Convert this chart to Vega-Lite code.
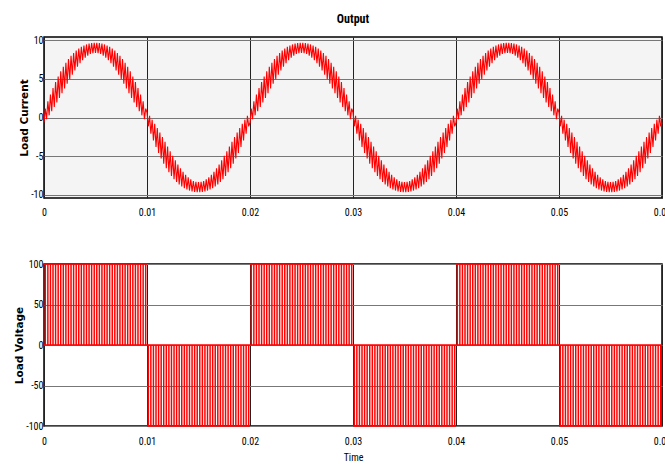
{
"$schema": "https://vega.github.io/schema/vega-lite/v6.json",
"background": "white",
"padding": {"left": 13, "top": 12, "right": -3, "bottom": 0},
"spacing": 40,
"config": {
 "font": "Liberation Sans",
 "view": {"stroke": "#000", "strokeWidth": 1.5},
 "axis": {"labelFont": "Liberation Sans Narrow, Arial Narrow, Roboto Condensed, Open Sans Condensed, Noto Sans Condensed, DejaVu Sans Condensed, Liberation Sans", "labelFontSize": 10, "labelColor": "#000", "titleFont": "DejaVu Sans", "titleFontSize": 10.5, "titleFontWeight": "bold", "titleColor": "#000", "domain": false, "ticks": false, "grid": true, "labelFlush": false}
},
"datasets": {
"cur": [
{"t":0.000,"i":-0.65},{"t":0.000125,"i":1.14},{"t":0.00025,"i":-0.21},{"t":0.000375,"i":2.09},{"t":0.0005,"i":0.28},{"t":0.000625,"i":2.98},{"t":0.00075,"i":0.8},{"t":0.000875,"i":3.81},
{"t":0.001,"i":1.35},{"t":0.001125,"i":4.59},{"t":0.00125,"i":1.94},{"t":0.001375,"i":5.3},{"t":0.0015,"i":2.53},{"t":0.001625,"i":5.96},{"t":0.00175,"i":3.14},{"t":0.001875,"i":6.55},
{"t":0.002,"i":3.76},{"t":0.002125,"i":7.08},{"t":0.00225,"i":4.37},{"t":0.002375,"i":7.55},{"t":0.0025,"i":4.96},{"t":0.002625,"i":7.97},{"t":0.00275,"i":5.53},{"t":0.002875,"i":8.33},
{"t":0.003,"i":6.07},{"t":0.003125,"i":8.64},{"t":0.00325,"i":6.57},{"t":0.003375,"i":8.91},{"t":0.0035,"i":7.02},{"t":0.003625,"i":9.13},{"t":0.00375,"i":7.41},{"t":0.003875,"i":9.31},
{"t":0.004,"i":7.74},{"t":0.004125,"i":9.44},{"t":0.00425,"i":8},{"t":0.004375,"i":9.55},{"t":0.0045,"i":8.2},{"t":0.004625,"i":9.61},{"t":0.00475,"i":8.31},{"t":0.004875,"i":9.65},
{"t":0.005,"i":8.35},{"t":0.005125,"i":9.65},{"t":0.00525,"i":8.31},{"t":0.005375,"i":9.61},{"t":0.0055,"i":8.2},{"t":0.005625,"i":9.55},{"t":0.00575,"i":8},{"t":0.005875,"i":9.44},
{"t":0.006,"i":7.74},{"t":0.006125,"i":9.31},{"t":0.00625,"i":7.41},{"t":0.006375,"i":9.13},{"t":0.0065,"i":7.02},{"t":0.006625,"i":8.91},{"t":0.00675,"i":6.57},{"t":0.006875,"i":8.64},
{"t":0.007,"i":6.07},{"t":0.007125,"i":8.33},{"t":0.00725,"i":5.53},{"t":0.007375,"i":7.97},{"t":0.0075,"i":4.96},{"t":0.007625,"i":7.55},{"t":0.00775,"i":4.37},{"t":0.007875,"i":7.08},
{"t":0.008,"i":3.76},{"t":0.008125,"i":6.55},{"t":0.00825,"i":3.14},{"t":0.008375,"i":5.96},{"t":0.0085,"i":2.53},{"t":0.008625,"i":5.3},{"t":0.00875,"i":1.94},{"t":0.008875,"i":4.59},
{"t":0.009,"i":1.35},{"t":0.009125,"i":3.81},{"t":0.00925,"i":0.8},{"t":0.009375,"i":2.98},{"t":0.0095,"i":0.28},{"t":0.009625,"i":2.09},{"t":0.00975,"i":-0.21},{"t":0.009875,"i":1.14},
{"t":0.010,"i":0.65},{"t":0.010125,"i":-1.14},{"t":0.01025,"i":0.21},{"t":0.010375,"i":-2.09},{"t":0.0105,"i":-0.28},{"t":0.010625,"i":-2.98},{"t":0.01075,"i":-0.8},{"t":0.010875,"i":-3.81},
{"t":0.011,"i":-1.35},{"t":0.011125,"i":-4.59},{"t":0.01125,"i":-1.94},{"t":0.011375,"i":-5.3},{"t":0.0115,"i":-2.53},{"t":0.011625,"i":-5.96},{"t":0.01175,"i":-3.14},{"t":0.011875,"i":-6.55},
{"t":0.012,"i":-3.76},{"t":0.012125,"i":-7.08},{"t":0.01225,"i":-4.37},{"t":0.012375,"i":-7.55},{"t":0.0125,"i":-4.96},{"t":0.012625,"i":-7.97},{"t":0.01275,"i":-5.53},{"t":0.012875,"i":-8.33},
{"t":0.013,"i":-6.07},{"t":0.013125,"i":-8.64},{"t":0.01325,"i":-6.57},{"t":0.013375,"i":-8.91},{"t":0.0135,"i":-7.02},{"t":0.013625,"i":-9.13},{"t":0.01375,"i":-7.41},{"t":0.013875,"i":-9.31},
{"t":0.014,"i":-7.74},{"t":0.014125,"i":-9.44},{"t":0.01425,"i":-8},{"t":0.014375,"i":-9.55},{"t":0.0145,"i":-8.2},{"t":0.014625,"i":-9.61},{"t":0.01475,"i":-8.31},{"t":0.014875,"i":-9.65},
{"t":0.015,"i":-8.35},{"t":0.015125,"i":-9.65},{"t":0.01525,"i":-8.31},{"t":0.015375,"i":-9.61},{"t":0.0155,"i":-8.2},{"t":0.015625,"i":-9.55},{"t":0.01575,"i":-8},{"t":0.015875,"i":-9.44},
{"t":0.016,"i":-7.74},{"t":0.016125,"i":-9.31},{"t":0.01625,"i":-7.41},{"t":0.016375,"i":-9.13},{"t":0.0165,"i":-7.02},{"t":0.016625,"i":-8.91},{"t":0.01675,"i":-6.57},{"t":0.016875,"i":-8.64},
{"t":0.017,"i":-6.07},{"t":0.017125,"i":-8.33},{"t":0.01725,"i":-5.53},{"t":0.017375,"i":-7.97},{"t":0.0175,"i":-4.96},{"t":0.017625,"i":-7.55},{"t":0.01775,"i":-4.37},{"t":0.017875,"i":-7.08},
{"t":0.018,"i":-3.76},{"t":0.018125,"i":-6.55},{"t":0.01825,"i":-3.14},{"t":0.018375,"i":-5.96},{"t":0.0185,"i":-2.53},{"t":0.018625,"i":-5.3},{"t":0.01875,"i":-1.94},{"t":0.018875,"i":-4.59},
{"t":0.019,"i":-1.35},{"t":0.019125,"i":-3.81},{"t":0.01925,"i":-0.8},{"t":0.019375,"i":-2.98},{"t":0.0195,"i":-0.28},{"t":0.019625,"i":-2.09},{"t":0.01975,"i":0.21},{"t":0.019875,"i":-1.14},
{"t":0.020,"i":-0.65},{"t":0.020125,"i":1.14},{"t":0.02025,"i":-0.21},{"t":0.020375,"i":2.09},{"t":0.0205,"i":0.28},{"t":0.020625,"i":2.98},{"t":0.02075,"i":0.8},{"t":0.020875,"i":3.81},
{"t":0.021,"i":1.35},{"t":0.021125,"i":4.59},{"t":0.02125,"i":1.94},{"t":0.021375,"i":5.3},{"t":0.0215,"i":2.53},{"t":0.021625,"i":5.96},{"t":0.02175,"i":3.14},{"t":0.021875,"i":6.55},
{"t":0.022,"i":3.76},{"t":0.022125,"i":7.08},{"t":0.02225,"i":4.37},{"t":0.022375,"i":7.55},{"t":0.0225,"i":4.96},{"t":0.022625,"i":7.97},{"t":0.02275,"i":5.53},{"t":0.022875,"i":8.33},
{"t":0.023,"i":6.07},{"t":0.023125,"i":8.64},{"t":0.02325,"i":6.57},{"t":0.023375,"i":8.91},{"t":0.0235,"i":7.02},{"t":0.023625,"i":9.13},{"t":0.02375,"i":7.41},{"t":0.023875,"i":9.31},
{"t":0.024,"i":7.74},{"t":0.024125,"i":9.44},{"t":0.02425,"i":8},{"t":0.024375,"i":9.55},{"t":0.0245,"i":8.2},{"t":0.024625,"i":9.61},{"t":0.02475,"i":8.31},{"t":0.024875,"i":9.65},
{"t":0.025,"i":8.35},{"t":0.025125,"i":9.65},{"t":0.02525,"i":8.31},{"t":0.025375,"i":9.61},{"t":0.0255,"i":8.2},{"t":0.025625,"i":9.55},{"t":0.02575,"i":8},{"t":0.025875,"i":9.44},
{"t":0.026,"i":7.74},{"t":0.026125,"i":9.31},{"t":0.02625,"i":7.41},{"t":0.026375,"i":9.13},{"t":0.0265,"i":7.02},{"t":0.026625,"i":8.91},{"t":0.02675,"i":6.57},{"t":0.026875,"i":8.64},
{"t":0.027,"i":6.07},{"t":0.027125,"i":8.33},{"t":0.02725,"i":5.53},{"t":0.027375,"i":7.97},{"t":0.0275,"i":4.96},{"t":0.027625,"i":7.55},{"t":0.02775,"i":4.37},{"t":0.027875,"i":7.08},
{"t":0.028,"i":3.76},{"t":0.028125,"i":6.55},{"t":0.02825,"i":3.14},{"t":0.028375,"i":5.96},{"t":0.0285,"i":2.53},{"t":0.028625,"i":5.3},{"t":0.02875,"i":1.94},{"t":0.028875,"i":4.59},
{"t":0.029,"i":1.35},{"t":0.029125,"i":3.81},{"t":0.02925,"i":0.8},{"t":0.029375,"i":2.98},{"t":0.0295,"i":0.28},{"t":0.029625,"i":2.09},{"t":0.02975,"i":-0.21},{"t":0.029875,"i":1.14},
{"t":0.030,"i":0.65},{"t":0.030125,"i":-1.14},{"t":0.03025,"i":0.21},{"t":0.030375,"i":-2.09},{"t":0.0305,"i":-0.28},{"t":0.030625,"i":-2.98},{"t":0.03075,"i":-0.8},{"t":0.030875,"i":-3.81},
{"t":0.031,"i":-1.35},{"t":0.031125,"i":-4.59},{"t":0.03125,"i":-1.94},{"t":0.031375,"i":-5.3},{"t":0.0315,"i":-2.53},{"t":0.031625,"i":-5.96},{"t":0.03175,"i":-3.14},{"t":0.031875,"i":-6.55},
{"t":0.032,"i":-3.76},{"t":0.032125,"i":-7.08},{"t":0.03225,"i":-4.37},{"t":0.032375,"i":-7.55},{"t":0.0325,"i":-4.96},{"t":0.032625,"i":-7.97},{"t":0.03275,"i":-5.53},{"t":0.032875,"i":-8.33},
{"t":0.033,"i":-6.07},{"t":0.033125,"i":-8.64},{"t":0.03325,"i":-6.57},{"t":0.033375,"i":-8.91},{"t":0.0335,"i":-7.02},{"t":0.033625,"i":-9.13},{"t":0.03375,"i":-7.41},{"t":0.033875,"i":-9.31},
{"t":0.034,"i":-7.74},{"t":0.034125,"i":-9.44},{"t":0.03425,"i":-8},{"t":0.034375,"i":-9.55},{"t":0.0345,"i":-8.2},{"t":0.034625,"i":-9.61},{"t":0.03475,"i":-8.31},{"t":0.034875,"i":-9.65},
{"t":0.035,"i":-8.35},{"t":0.035125,"i":-9.65},{"t":0.03525,"i":-8.31},{"t":0.035375,"i":-9.61},{"t":0.0355,"i":-8.2},{"t":0.035625,"i":-9.55},{"t":0.03575,"i":-8},{"t":0.035875,"i":-9.44},
{"t":0.036,"i":-7.74},{"t":0.036125,"i":-9.31},{"t":0.03625,"i":-7.41},{"t":0.036375,"i":-9.13},{"t":0.0365,"i":-7.02},{"t":0.036625,"i":-8.91},{"t":0.03675,"i":-6.57},{"t":0.036875,"i":-8.64},
{"t":0.037,"i":-6.07},{"t":0.037125,"i":-8.33},{"t":0.03725,"i":-5.53},{"t":0.037375,"i":-7.97},{"t":0.0375,"i":-4.96},{"t":0.037625,"i":-7.55},{"t":0.03775,"i":-4.37},{"t":0.037875,"i":-7.08},
{"t":0.038,"i":-3.76},{"t":0.038125,"i":-6.55},{"t":0.03825,"i":-3.14},{"t":0.038375,"i":-5.96},{"t":0.0385,"i":-2.53},{"t":0.038625,"i":-5.3},{"t":0.03875,"i":-1.94},{"t":0.038875,"i":-4.59},
{"t":0.039,"i":-1.35},{"t":0.039125,"i":-3.81},{"t":0.03925,"i":-0.8},{"t":0.039375,"i":-2.98},{"t":0.0395,"i":-0.28},{"t":0.039625,"i":-2.09},{"t":0.03975,"i":0.21},{"t":0.039875,"i":-1.14},
{"t":0.040,"i":-0.65},{"t":0.040125,"i":1.14},{"t":0.04025,"i":-0.21},{"t":0.040375,"i":2.09},{"t":0.0405,"i":0.28},{"t":0.040625,"i":2.98},{"t":0.04075,"i":0.8},{"t":0.040875,"i":3.81},
{"t":0.041,"i":1.35},{"t":0.041125,"i":4.59},{"t":0.04125,"i":1.94},{"t":0.041375,"i":5.3},{"t":0.0415,"i":2.53},{"t":0.041625,"i":5.96},{"t":0.04175,"i":3.14},{"t":0.041875,"i":6.55},
{"t":0.042,"i":3.76},{"t":0.042125,"i":7.08},{"t":0.04225,"i":4.37},{"t":0.042375,"i":7.55},{"t":0.0425,"i":4.96},{"t":0.042625,"i":7.97},{"t":0.04275,"i":5.53},{"t":0.042875,"i":8.33},
{"t":0.043,"i":6.07},{"t":0.043125,"i":8.64},{"t":0.04325,"i":6.57},{"t":0.043375,"i":8.91},{"t":0.0435,"i":7.02},{"t":0.043625,"i":9.13},{"t":0.04375,"i":7.41},{"t":0.043875,"i":9.31},
{"t":0.044,"i":7.74},{"t":0.044125,"i":9.44},{"t":0.04425,"i":8},{"t":0.044375,"i":9.55},{"t":0.0445,"i":8.2},{"t":0.044625,"i":9.61},{"t":0.04475,"i":8.31},{"t":0.044875,"i":9.65},
{"t":0.045,"i":8.35},{"t":0.045125,"i":9.65},{"t":0.04525,"i":8.31},{"t":0.045375,"i":9.61},{"t":0.0455,"i":8.2},{"t":0.045625,"i":9.55},{"t":0.04575,"i":8},{"t":0.045875,"i":9.44},
{"t":0.046,"i":7.74},{"t":0.046125,"i":9.31},{"t":0.04625,"i":7.41},{"t":0.046375,"i":9.13},{"t":0.0465,"i":7.02},{"t":0.046625,"i":8.91},{"t":0.04675,"i":6.57},{"t":0.046875,"i":8.64},
{"t":0.047,"i":6.07},{"t":0.047125,"i":8.33},{"t":0.04725,"i":5.53},{"t":0.047375,"i":7.97},{"t":0.0475,"i":4.96},{"t":0.047625,"i":7.55},{"t":0.04775,"i":4.37},{"t":0.047875,"i":7.08},
{"t":0.048,"i":3.76},{"t":0.048125,"i":6.55},{"t":0.04825,"i":3.14},{"t":0.048375,"i":5.96},{"t":0.0485,"i":2.53},{"t":0.048625,"i":5.3},{"t":0.04875,"i":1.94},{"t":0.048875,"i":4.59},
{"t":0.049,"i":1.35},{"t":0.049125,"i":3.81},{"t":0.04925,"i":0.8},{"t":0.049375,"i":2.98},{"t":0.0495,"i":0.28},{"t":0.049625,"i":2.09},{"t":0.04975,"i":-0.21},{"t":0.049875,"i":1.14},
{"t":0.050,"i":0.65},{"t":0.050125,"i":-1.14},{"t":0.05025,"i":0.21},{"t":0.050375,"i":-2.09},{"t":0.0505,"i":-0.28},{"t":0.050625,"i":-2.98},{"t":0.05075,"i":-0.8},{"t":0.050875,"i":-3.81},
{"t":0.051,"i":-1.35},{"t":0.051125,"i":-4.59},{"t":0.05125,"i":-1.94},{"t":0.051375,"i":-5.3},{"t":0.0515,"i":-2.53},{"t":0.051625,"i":-5.96},{"t":0.05175,"i":-3.14},{"t":0.051875,"i":-6.55},
{"t":0.052,"i":-3.76},{"t":0.052125,"i":-7.08},{"t":0.05225,"i":-4.37},{"t":0.052375,"i":-7.55},{"t":0.0525,"i":-4.96},{"t":0.052625,"i":-7.97},{"t":0.05275,"i":-5.53},{"t":0.052875,"i":-8.33},
{"t":0.053,"i":-6.07},{"t":0.053125,"i":-8.64},{"t":0.05325,"i":-6.57},{"t":0.053375,"i":-8.91},{"t":0.0535,"i":-7.02},{"t":0.053625,"i":-9.13},{"t":0.05375,"i":-7.41},{"t":0.053875,"i":-9.31},
{"t":0.054,"i":-7.74},{"t":0.054125,"i":-9.44},{"t":0.05425,"i":-8},{"t":0.054375,"i":-9.55},{"t":0.0545,"i":-8.2},{"t":0.054625,"i":-9.61},{"t":0.05475,"i":-8.31},{"t":0.054875,"i":-9.65},
{"t":0.055,"i":-8.35},{"t":0.055125,"i":-9.65},{"t":0.05525,"i":-8.31},{"t":0.055375,"i":-9.61},{"t":0.0555,"i":-8.2},{"t":0.055625,"i":-9.55},{"t":0.05575,"i":-8},{"t":0.055875,"i":-9.44},
{"t":0.056,"i":-7.74},{"t":0.056125,"i":-9.31},{"t":0.05625,"i":-7.41},{"t":0.056375,"i":-9.13},{"t":0.0565,"i":-7.02},{"t":0.056625,"i":-8.91},{"t":0.05675,"i":-6.57},{"t":0.056875,"i":-8.64},
{"t":0.057,"i":-6.07},{"t":0.057125,"i":-8.33},{"t":0.05725,"i":-5.53},{"t":0.057375,"i":-7.97},{"t":0.0575,"i":-4.96},{"t":0.057625,"i":-7.55},{"t":0.05775,"i":-4.37},{"t":0.057875,"i":-7.08},
{"t":0.058,"i":-3.76},{"t":0.058125,"i":-6.55},{"t":0.05825,"i":-3.14},{"t":0.058375,"i":-5.96},{"t":0.0585,"i":-2.53},{"t":0.058625,"i":-5.3},{"t":0.05875,"i":-1.94},{"t":0.058875,"i":-4.59},
{"t":0.059,"i":-1.35},{"t":0.059125,"i":-3.81},{"t":0.05925,"i":-0.8},{"t":0.059375,"i":-2.98},{"t":0.0595,"i":-0.28},{"t":0.059625,"i":-2.09},{"t":0.05975,"i":0.21},{"t":0.059875,"i":-1.14},
{"t":0.06,"i":-0.65}
],
"pwm": [
{"t":0.000125,"v":100},{"t":0.000375,"v":100},{"t":0.000625,"v":100},{"t":0.000875,"v":100},{"t":0.001125,"v":100},{"t":0.001375,"v":100},{"t":0.001625,"v":100},{"t":0.001875,"v":100},{"t":0.002125,"v":100},{"t":0.002375,"v":100},{"t":0.002625,"v":100},{"t":0.002875,"v":100},{"t":0.003125,"v":100},{"t":0.003375,"v":100},{"t":0.003625,"v":100},{"t":0.003875,"v":100},{"t":0.004125,"v":100},{"t":0.004375,"v":100},{"t":0.004625,"v":100},{"t":0.004875,"v":100},{"t":0.005125,"v":100},{"t":0.005375,"v":100},{"t":0.005625,"v":100},{"t":0.005875,"v":100},{"t":0.006125,"v":100},{"t":0.006375,"v":100},{"t":0.006625,"v":100},{"t":0.006875,"v":100},{"t":0.007125,"v":100},{"t":0.007375,"v":100},{"t":0.007625,"v":100},{"t":0.007875,"v":100},{"t":0.008125,"v":100},{"t":0.008375,"v":100},{"t":0.008625,"v":100},{"t":0.008875,"v":100},{"t":0.009125,"v":100},{"t":0.009375,"v":100},{"t":0.009625,"v":100},{"t":0.009875,"v":100},
{"t":0.010125,"v":-100},{"t":0.010375,"v":-100},{"t":0.010625,"v":-100},{"t":0.010875,"v":-100},{"t":0.011125,"v":-100},{"t":0.011375,"v":-100},{"t":0.011625,"v":-100},{"t":0.011875,"v":-100},{"t":0.012125,"v":-100},{"t":0.012375,"v":-100},{"t":0.012625,"v":-100},{"t":0.012875,"v":-100},{"t":0.013125,"v":-100},{"t":0.013375,"v":-100},{"t":0.013625,"v":-100},{"t":0.013875,"v":-100},{"t":0.014125,"v":-100},{"t":0.014375,"v":-100},{"t":0.014625,"v":-100},{"t":0.014875,"v":-100},{"t":0.015125,"v":-100},{"t":0.015375,"v":-100},{"t":0.015625,"v":-100},{"t":0.015875,"v":-100},{"t":0.016125,"v":-100},{"t":0.016375,"v":-100},{"t":0.016625,"v":-100},{"t":0.016875,"v":-100},{"t":0.017125,"v":-100},{"t":0.017375,"v":-100},{"t":0.017625,"v":-100},{"t":0.017875,"v":-100},{"t":0.018125,"v":-100},{"t":0.018375,"v":-100},{"t":0.018625,"v":-100},{"t":0.018875,"v":-100},{"t":0.019125,"v":-100},{"t":0.019375,"v":-100},{"t":0.019625,"v":-100},{"t":0.019875,"v":-100},
{"t":0.020125,"v":100},{"t":0.020375,"v":100},{"t":0.020625,"v":100},{"t":0.020875,"v":100},{"t":0.021125,"v":100},{"t":0.021375,"v":100},{"t":0.021625,"v":100},{"t":0.021875,"v":100},{"t":0.022125,"v":100},{"t":0.022375,"v":100},{"t":0.022625,"v":100},{"t":0.022875,"v":100},{"t":0.023125,"v":100},{"t":0.023375,"v":100},{"t":0.023625,"v":100},{"t":0.023875,"v":100},{"t":0.024125,"v":100},{"t":0.024375,"v":100},{"t":0.024625,"v":100},{"t":0.024875,"v":100},{"t":0.025125,"v":100},{"t":0.025375,"v":100},{"t":0.025625,"v":100},{"t":0.025875,"v":100},{"t":0.026125,"v":100},{"t":0.026375,"v":100},{"t":0.026625,"v":100},{"t":0.026875,"v":100},{"t":0.027125,"v":100},{"t":0.027375,"v":100},{"t":0.027625,"v":100},{"t":0.027875,"v":100},{"t":0.028125,"v":100},{"t":0.028375,"v":100},{"t":0.028625,"v":100},{"t":0.028875,"v":100},{"t":0.029125,"v":100},{"t":0.029375,"v":100},{"t":0.029625,"v":100},{"t":0.029875,"v":100},
{"t":0.030125,"v":-100},{"t":0.030375,"v":-100},{"t":0.030625,"v":-100},{"t":0.030875,"v":-100},{"t":0.031125,"v":-100},{"t":0.031375,"v":-100},{"t":0.031625,"v":-100},{"t":0.031875,"v":-100},{"t":0.032125,"v":-100},{"t":0.032375,"v":-100},{"t":0.032625,"v":-100},{"t":0.032875,"v":-100},{"t":0.033125,"v":-100},{"t":0.033375,"v":-100},{"t":0.033625,"v":-100},{"t":0.033875,"v":-100},{"t":0.034125,"v":-100},{"t":0.034375,"v":-100},{"t":0.034625,"v":-100},{"t":0.034875,"v":-100},{"t":0.035125,"v":-100},{"t":0.035375,"v":-100},{"t":0.035625,"v":-100},{"t":0.035875,"v":-100},{"t":0.036125,"v":-100},{"t":0.036375,"v":-100},{"t":0.036625,"v":-100},{"t":0.036875,"v":-100},{"t":0.037125,"v":-100},{"t":0.037375,"v":-100},{"t":0.037625,"v":-100},{"t":0.037875,"v":-100},{"t":0.038125,"v":-100},{"t":0.038375,"v":-100},{"t":0.038625,"v":-100},{"t":0.038875,"v":-100},{"t":0.039125,"v":-100},{"t":0.039375,"v":-100},{"t":0.039625,"v":-100},{"t":0.039875,"v":-100},
{"t":0.040125,"v":100},{"t":0.040375,"v":100},{"t":0.040625,"v":100},{"t":0.040875,"v":100},{"t":0.041125,"v":100},{"t":0.041375,"v":100},{"t":0.041625,"v":100},{"t":0.041875,"v":100},{"t":0.042125,"v":100},{"t":0.042375,"v":100},{"t":0.042625,"v":100},{"t":0.042875,"v":100},{"t":0.043125,"v":100},{"t":0.043375,"v":100},{"t":0.043625,"v":100},{"t":0.043875,"v":100},{"t":0.044125,"v":100},{"t":0.044375,"v":100},{"t":0.044625,"v":100},{"t":0.044875,"v":100},{"t":0.045125,"v":100},{"t":0.045375,"v":100},{"t":0.045625,"v":100},{"t":0.045875,"v":100},{"t":0.046125,"v":100},{"t":0.046375,"v":100},{"t":0.046625,"v":100},{"t":0.046875,"v":100},{"t":0.047125,"v":100},{"t":0.047375,"v":100},{"t":0.047625,"v":100},{"t":0.047875,"v":100},{"t":0.048125,"v":100},{"t":0.048375,"v":100},{"t":0.048625,"v":100},{"t":0.048875,"v":100},{"t":0.049125,"v":100},{"t":0.049375,"v":100},{"t":0.049625,"v":100},{"t":0.049875,"v":100},
{"t":0.050125,"v":-100},{"t":0.050375,"v":-100},{"t":0.050625,"v":-100},{"t":0.050875,"v":-100},{"t":0.051125,"v":-100},{"t":0.051375,"v":-100},{"t":0.051625,"v":-100},{"t":0.051875,"v":-100},{"t":0.052125,"v":-100},{"t":0.052375,"v":-100},{"t":0.052625,"v":-100},{"t":0.052875,"v":-100},{"t":0.053125,"v":-100},{"t":0.053375,"v":-100},{"t":0.053625,"v":-100},{"t":0.053875,"v":-100},{"t":0.054125,"v":-100},{"t":0.054375,"v":-100},{"t":0.054625,"v":-100},{"t":0.054875,"v":-100},{"t":0.055125,"v":-100},{"t":0.055375,"v":-100},{"t":0.055625,"v":-100},{"t":0.055875,"v":-100},{"t":0.056125,"v":-100},{"t":0.056375,"v":-100},{"t":0.056625,"v":-100},{"t":0.056875,"v":-100},{"t":0.057125,"v":-100},{"t":0.057375,"v":-100},{"t":0.057625,"v":-100},{"t":0.057875,"v":-100},{"t":0.058125,"v":-100},{"t":0.058375,"v":-100},{"t":0.058625,"v":-100},{"t":0.058875,"v":-100},{"t":0.059125,"v":-100},{"t":0.059375,"v":-100},{"t":0.059625,"v":-100},{"t":0.059875,"v":-100}
],
"seg": [
{"t0":0,"t1":0.01,"v":100},{"t0":0.01,"t1":0.02,"v":-100},{"t0":0.02,"t1":0.03,"v":100},{"t0":0.03,"t1":0.04,"v":-100},{"t0":0.04,"t1":0.05,"v":100},{"t0":0.05,"t1":0.06,"v":-100},{"t0":0,"t1":0.06,"v":0}
]
},
"vconcat": [
{
 "title": {"text": "Output", "font": "Liberation Sans Narrow, Arial Narrow, Roboto Condensed, Open Sans Condensed, Noto Sans Condensed, DejaVu Sans Condensed, Liberation Sans", "fontSize": 12, "fontWeight": "bold", "color": "#000", "offset": 9, "anchor": "middle"},
 "width": 618, "height": 161,
 "view": {"fill": "#f4f4f4", "stroke": "#000", "strokeWidth": 1.5},
 "data": {"name": "cur"},
 "mark": {"type": "line", "color": "#ff0000", "strokeWidth": 1.1},
 "encoding": {
  "x": {"field": "t", "type": "quantitative", "scale": {"domain": [0, 0.06], "nice": false, "zero": false},
        "axis": {"values": [0, 0.01, 0.02, 0.03, 0.04, 0.05, 0.06], "title": null, "labelExpr": "'' + datum.value", "labelPadding": 9, "labelFlush": false, "gridColor": "#222", "gridWidth": 1, "gridOpacity": 1}},
  "y": {"field": "i", "type": "quantitative", "scale": {"domain": [-10.4, 10.4], "nice": false, "zero": false},
        "axis": {"values": [-10, -5, 0, 5, 10], "title": "Load Current", "labelExpr": "'' + datum.value", "labelPadding": 1, "titlePadding": 1, "gridColor": "#777", "gridWidth": 1.2, "gridOpacity": 1}}
 }
},
{
 "width": 618, "height": 162,
 "view": {"fill": "white", "stroke": "#000", "strokeWidth": 1.5},
 "layer": [
  {
   "data": {"name": "pwm"},
   "mark": {"type": "rule", "color": "#ff0000", "strokeWidth": 1.5},
   "encoding": {
    "x": {"field": "t", "type": "quantitative", "scale": {"domain": [0, 0.06], "nice": false, "zero": false},
          "axis": {"values": [0, 0.01, 0.02, 0.03, 0.04, 0.05, 0.06], "title": "Time", "titleFont": "Liberation Sans Narrow, Arial Narrow, Roboto Condensed, Open Sans Condensed, Noto Sans Condensed, DejaVu Sans Condensed, Liberation Sans", "titleFontWeight": "normal", "titleFontSize": 10, "titlePadding": 6, "labelExpr": "'' + datum.value", "labelPadding": 10, "labelFlush": false, "gridColor": "#222", "gridWidth": 1, "gridOpacity": 1}},
    "y": {"field": "v", "type": "quantitative", "scale": {"domain": [-100, 100], "nice": false},
          "axis": {"values": [-100, -50, 0, 50, 100], "title": "Load Voltage", "labelExpr": "'' + datum.value", "labelPadding": 1, "titlePadding": 1, "gridColor": "#777", "gridWidth": 1.2, "gridOpacity": 1}},
    "y2": {"datum": 0}
   }
  },
  {
   "data": {"name": "seg"},
   "mark": {"type": "rule", "color": "#ff0000", "strokeWidth": 1.5},
   "encoding": {
    "x": {"field": "t0", "type": "quantitative"},
    "x2": {"field": "t1"},
    "y": {"field": "v", "type": "quantitative"}
   }
  }
 ]
}
]
}
